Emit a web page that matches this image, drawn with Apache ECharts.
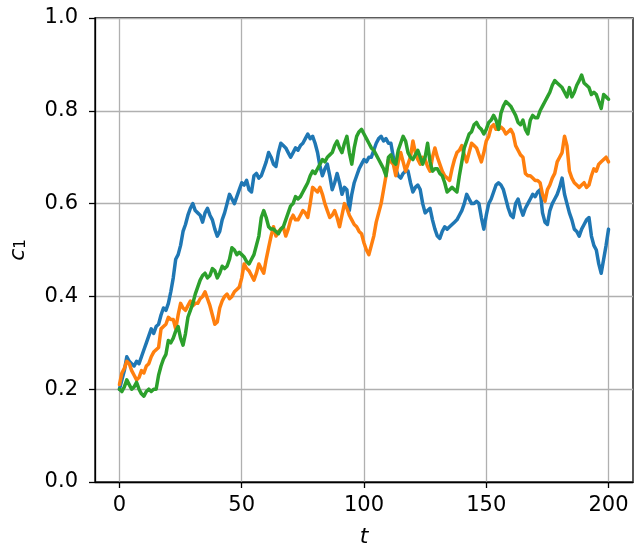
<!DOCTYPE html>
<html>
<head>
<meta charset="utf-8">
<script src="https://cdn.jsdelivr.net/npm/echarts@6/dist/echarts.min.js"></script>
<style>
html,body{margin:0;padding:0;background:#fff;}
#chart{width:637px;height:547px;}
</style>
</head>
<body>
<div id="chart"></div>
<script>
// time steps 0..200
const tValues = Array.from({length: 201}, (_, i) => i);
const xTicks = [0, 50, 100, 150, 200];

const blueVals = [
0.20,0.22,0.24,0.27,0.26,0.255,0.25,0.26,0.255,0.27,
0.285,0.30,0.315,0.33,0.32,0.335,0.34,0.36,0.375,0.37,
0.385,0.41,0.44,0.48,0.49,0.51,0.54,0.555,0.575,0.59,
0.60,0.585,0.58,0.575,0.56,0.58,0.59,0.575,0.565,0.545,
0.53,0.54,0.565,0.58,0.60,0.62,0.61,0.60,0.615,0.63,
0.645,0.64,0.65,0.63,0.625,0.66,0.665,0.655,0.66,0.675,
0.69,0.71,0.70,0.685,0.68,0.71,0.73,0.725,0.72,0.71,
0.70,0.71,0.72,0.715,0.725,0.73,0.74,0.75,0.74,0.745,
0.73,0.71,0.68,0.66,0.675,0.685,0.66,0.63,0.645,0.665,
0.645,0.62,0.635,0.63,0.585,0.62,0.645,0.66,0.675,0.685,
0.695,0.69,0.70,0.70,0.715,0.73,0.74,0.745,0.735,0.74,
0.73,0.73,0.70,0.675,0.66,0.655,0.665,0.67,0.67,0.645,
0.625,0.635,0.64,0.63,0.60,0.58,0.585,0.59,0.565,0.545,
0.53,0.525,0.54,0.55,0.545,0.55,0.555,0.56,0.565,0.575,
0.585,0.60,0.62,0.61,0.60,0.60,0.605,0.60,0.57,0.545,
0.575,0.60,0.61,0.625,0.64,0.645,0.64,0.63,0.61,0.59,
0.575,0.57,0.60,0.61,0.59,0.575,0.59,0.60,0.61,0.62,
0.615,0.625,0.63,0.58,0.56,0.555,0.585,0.60,0.61,0.62,
0.635,0.655,0.62,0.60,0.58,0.565,0.545,0.54,0.53,0.545,
0.555,0.565,0.57,0.53,0.51,0.50,0.47,0.45,0.48,0.51,
0.545
];

const orangeVals = [
0.21,0.235,0.245,0.26,0.255,0.24,0.23,0.22,0.225,0.24,
0.235,0.25,0.255,0.27,0.28,0.285,0.29,0.33,0.335,0.34,
0.355,0.35,0.35,0.33,0.36,0.385,0.375,0.37,0.38,0.39,
0.38,0.385,0.385,0.395,0.40,0.41,0.395,0.38,0.36,0.34,
0.345,0.375,0.39,0.40,0.405,0.395,0.40,0.41,0.415,0.42,
0.44,0.47,0.46,0.455,0.445,0.435,0.45,0.47,0.46,0.45,
0.48,0.505,0.53,0.55,0.53,0.54,0.545,0.55,0.53,0.545,
0.565,0.575,0.565,0.565,0.575,0.585,0.58,0.57,0.60,0.635,
0.63,0.625,0.635,0.62,0.60,0.585,0.57,0.575,0.585,0.57,
0.55,0.575,0.60,0.59,0.575,0.565,0.555,0.55,0.54,0.535,
0.515,0.50,0.49,0.51,0.53,0.56,0.58,0.60,0.63,0.66,
0.695,0.69,0.685,0.66,0.69,0.71,0.69,0.67,0.685,0.70,
0.735,0.71,0.695,0.685,0.70,0.695,0.68,0.67,0.70,0.72,
0.70,0.685,0.67,0.66,0.655,0.65,0.675,0.695,0.71,0.715,
0.725,0.705,0.69,0.71,0.73,0.725,0.72,0.705,0.69,0.71,
0.735,0.745,0.765,0.77,0.76,0.76,0.765,0.76,0.75,0.755,
0.76,0.75,0.725,0.715,0.705,0.70,0.665,0.66,0.66,0.655,
0.65,0.65,0.645,0.62,0.605,0.63,0.64,0.655,0.665,0.69,
0.70,0.71,0.745,0.725,0.67,0.655,0.645,0.64,0.635,0.64,
0.645,0.635,0.64,0.66,0.675,0.67,0.685,0.69,0.695,0.70,
0.69
];

const greenVals = [
0.20,0.195,0.205,0.22,0.21,0.20,0.205,0.215,0.20,0.19,
0.185,0.195,0.20,0.195,0.20,0.20,0.23,0.25,0.265,0.275,
0.305,0.30,0.31,0.325,0.335,0.31,0.295,0.32,0.355,0.37,
0.385,0.405,0.42,0.435,0.445,0.45,0.44,0.445,0.46,0.455,
0.44,0.45,0.465,0.46,0.465,0.48,0.505,0.50,0.49,0.495,
0.49,0.485,0.475,0.47,0.48,0.49,0.51,0.53,0.57,0.585,
0.57,0.55,0.545,0.545,0.54,0.535,0.545,0.55,0.565,0.58,
0.595,0.60,0.615,0.61,0.615,0.625,0.635,0.645,0.66,0.67,
0.665,0.675,0.685,0.695,0.69,0.70,0.705,0.71,0.725,0.735,
0.72,0.71,0.73,0.745,0.71,0.685,0.72,0.745,0.755,0.76,
0.75,0.74,0.73,0.72,0.715,0.705,0.695,0.685,0.675,0.66,
0.70,0.705,0.69,0.685,0.715,0.73,0.745,0.735,0.71,0.70,
0.695,0.705,0.715,0.70,0.685,0.70,0.73,0.69,0.67,0.675,
0.675,0.665,0.66,0.645,0.625,0.63,0.635,0.63,0.625,0.66,
0.69,0.72,0.735,0.75,0.755,0.77,0.775,0.765,0.76,0.75,
0.76,0.775,0.78,0.79,0.78,0.76,0.795,0.81,0.82,0.815,
0.81,0.80,0.79,0.775,0.77,0.78,0.76,0.75,0.78,0.79,
0.785,0.785,0.80,0.81,0.82,0.83,0.84,0.855,0.865,0.86,
0.855,0.85,0.84,0.83,0.85,0.83,0.84,0.855,0.865,0.877,
0.86,0.855,0.85,0.835,0.84,0.835,0.82,0.805,0.835,0.83,
0.825
];

const colors = ['#1f77b4', '#ff7f0e', '#2ca02c'];
const seriesVals = [blueVals, orangeVals, greenVals];

const chart = echarts.init(document.getElementById('chart'), null, {renderer: 'canvas'});
const fontFam = 'DejaVu Sans';

const series = seriesVals.map((vals, k) => ({
  type: 'line',
  data: vals.map((v, i) => [tValues[i], v]),
  showSymbol: false,
  symbol: 'none',
  lineStyle: {color: colors[k], width: 3.5, join: 'round', cap: 'round'},
  itemStyle: {color: colors[k]},
  z: 2 + k,
  animation: false
}));

chart.setOption({
  backgroundColor: '#fff',
  animation: false,
  grid: {left: 95, right: 4, top: 18, bottom: 65, containLabel: false, outerBoundsMode: 'none',
         show: true, borderColor: '#000', borderWidth: 1.3, backgroundColor: 'transparent'},
  xAxis: {
    type: 'value', min: -10, max: 210,
    name: 't', nameLocation: 'middle', nameGap: 44,
    nameTextStyle: {fontFamily: fontFam, fontSize: 22, fontStyle: 'italic', color: '#000'},
    axisLine: {show: true, onZero: false, lineStyle: {color: '#000', width: 1.3}},
    axisTick: {show: true, customValues: xTicks, length: 6, lineStyle: {color: '#000', width: 1.3}},
    axisLabel: {customValues: xTicks, margin: 13, fontFamily: fontFam, fontSize: 21, color: '#000'},
    splitLine: {show: true, lineStyle: {color: '#b0b0b0', width: 1.3}}
  },
  yAxis: {
    type: 'value', min: 0, max: 1, interval: 0.2,
    name: '{i|c}{s|1}', nameLocation: 'middle', nameGap: 66, nameRotate: 90,
    nameTextStyle: {
      fontFamily: fontFam, color: '#000',
      rich: {
        i: {fontFamily: fontFam, fontSize: 22, fontStyle: 'italic', color: '#000', verticalAlign: 'bottom', lineHeight: 26},
        s: {fontFamily: fontFam, fontSize: 15, color: '#000', verticalAlign: 'bottom', lineHeight: 16}
      }
    },
    axisLine: {show: true, onZero: false, lineStyle: {color: '#000', width: 1.3}},
    axisTick: {show: true, length: 6, lineStyle: {color: '#000', width: 1.3}},
    axisLabel: {margin: 17, fontFamily: fontFam, fontSize: 21, color: '#000', formatter: v => v.toFixed(1)},
    splitLine: {show: true, lineStyle: {color: '#b0b0b0', width: 1.3}}
  },
  series: series
});
</script>
</body>
</html>
